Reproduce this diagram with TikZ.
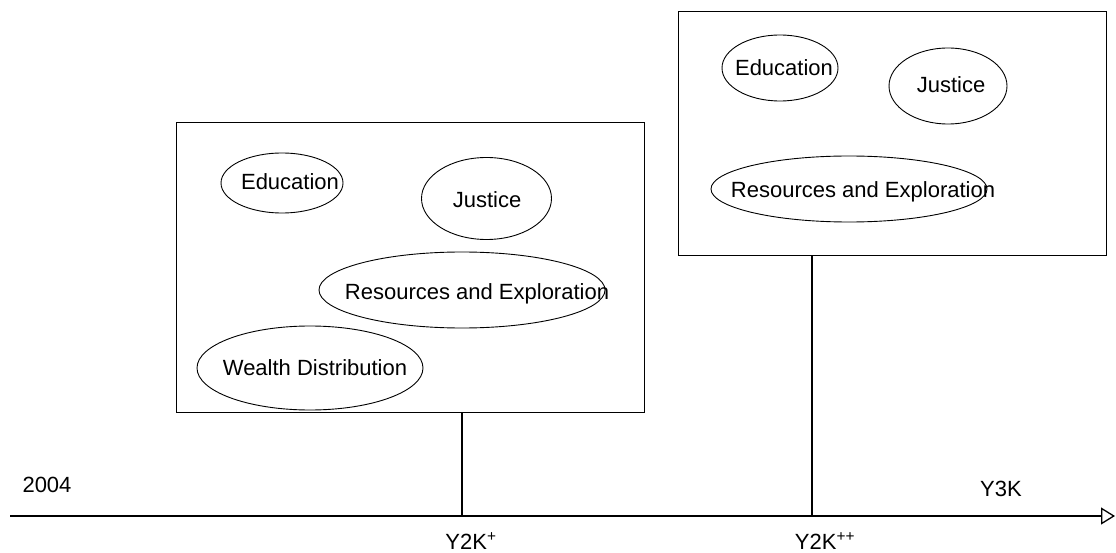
\documentclass[tikz,border=0pt]{standalone}
\usepackage{fontspec}
\setmainfont{Liberation Sans}
\usetikzlibrary{shapes.geometric,arrows.meta}
\begin{document}
\begin{tikzpicture}[x=1pt,y=-1pt,
  panel/.style={draw,line width=1pt,inner sep=0pt},
  bubble/.style={draw,ellipse,line width=0.9pt,inner sep=0pt},
  lbl/.style={font=\fontsize{22}{26}\selectfont,inner sep=0pt,text height=16pt,text depth=0pt},
  stem/.style={line width=1.8pt},
  axisline/.style={line width=1.8pt,-{Triangle[open,length=14pt,width=17pt,line width=1.3pt]}}]
\useasboundingbox (0,0) rectangle (1116,553);

% time axis
\coordinate (start) at (10,516);
\coordinate (end) at (1115,516);
\draw[axisline] (start) -- (end);
\node[lbl] (y2004) at (47,484) {2004};
\node[lbl] (y3k) at (1001,488) {Y3K};

% first period panel
\node[panel,minimum width=468pt,minimum height=289pt] (boxA) at (410,267.5) {};
\coordinate (tickA) at (462,516);
\draw[stem] (boxA.south -| tickA) -- (tickA);
\node[lbl] (labA) at (471,541) {Y2K\textsuperscript{+}};

\node[bubble,minimum width=122pt,minimum height=60pt] (eduA) at (282,183) {};
\node[lbl] (eduAt) at (290,182) {Education};
\node[bubble,minimum width=130pt,minimum height=82pt] (jusA) at (486.5,198.5) {};
\node[lbl] (jusAt) at (487,200) {Justice};
\node[bubble,minimum width=286pt,minimum height=76pt] (resA) at (462,290) {};
\node[lbl] (resAt) at (477,292) {Resources and Exploration};
\node[bubble,minimum width=226pt,minimum height=84pt] (weaA) at (310,368) {};
\node[lbl] (weaAt) at (315,367) {Wealth Distribution};

% second period panel
\node[panel,minimum width=428pt,minimum height=244pt] (boxB) at (892,134) {};
\coordinate (tickB) at (812,516);
\draw[stem] (boxB.south -| tickB) -- (tickB);
\node[lbl] (labB) at (825,541) {Y2K\textsuperscript{++}};

\node[bubble,minimum width=116pt,minimum height=66pt] (eduB) at (780,68) {};
\node[lbl] (eduBt) at (784,68) {Education};
\node[bubble,minimum width=118pt,minimum height=76pt] (jusB) at (948,86) {};
\node[lbl] (jusBt) at (951,85) {Justice};
\node[bubble,minimum width=276pt,minimum height=66pt] (resB) at (849,189) {};
\node[lbl] (resBt) at (863,190) {Resources and Exploration};
\end{tikzpicture}
\end{document}
